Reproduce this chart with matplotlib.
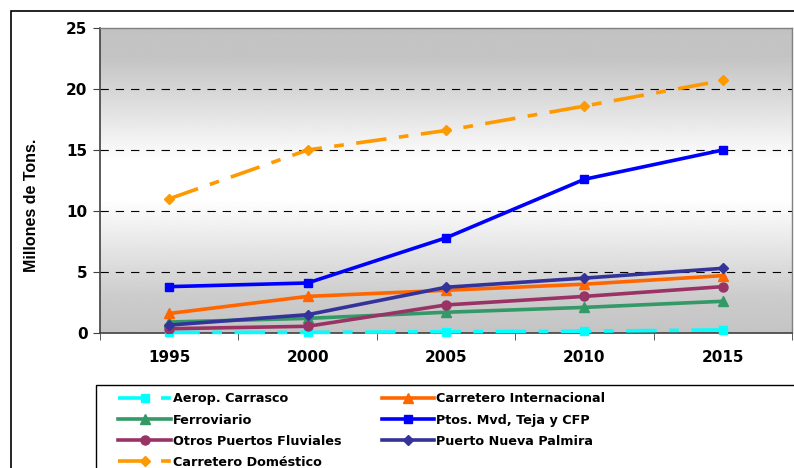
import matplotlib
matplotlib.use("Agg")
import matplotlib.pyplot as plt
import numpy as np
from matplotlib.patches import Rectangle
from matplotlib.lines import Line2D

plt.rcParams['lines.scale_dashes'] = False

years = ["1995", "2000", "2005", "2010", "2015"]
aerop_carrasco = [0.05, 0.05, 0.1, 0.15, 0.25]
carretero_internacional = [1.6, 3.0, 3.5, 4.0, 4.7]
ferroviario = [0.9, 1.2, 1.7, 2.1, 2.6]
ptos_mvd = [3.8, 4.1, 7.8, 12.6, 15.0]
otros_puertos = [0.35, 0.55, 2.3, 3.0, 3.8]
puerto_nueva_palmira = [0.65, 1.5, 3.75, 4.5, 5.3]
carretero_domestico = [11.0, 15.0, 16.6, 18.6, 20.7]

W, H = 794, 468
fig = plt.figure(figsize=(W/100, H/100), dpi=100)
fig.patch.set_facecolor('white')

# outer frame (extends beyond right / bottom)
fig.add_artist(Rectangle((11/W, -0.1), 1.2, 1 - 11/H + 0.1, transform=fig.transFigure,
                         fill=False, edgecolor='black', linewidth=1.2))

ax = fig.add_axes([100/W, (H-333)/H, (792-100)/W, (333-28)/H])
ax.set_xlim(-0.5, 4.5)
ax.set_ylim(0, 25)

# gradient background
yy = np.linspace(25, 0, 400)
vals = np.interp(yy, [0, 3, 11, 14, 22.5, 25], [0.77, 0.8, 1.0, 1.0, 0.77, 0.76])
img = np.repeat(vals[:, None], 2, axis=1)
ax.imshow(img, extent=[-0.5, 4.5, 0, 25], aspect='auto', cmap='gray', vmin=0, vmax=1,
          zorder=0, interpolation='bilinear')

for yv in [5, 10, 15, 20]:
    ax.axhline(yv, color='black', linestyle=(0, (6, 5)), linewidth=0.8, zorder=1)

x = np.arange(len(years))
lw = 2.6
dd = (0, (22, 9, 7, 9))
ax.plot(x, aerop_carrasco, color='#00FFFF', lw=lw, marker='s', ms=6,
        linestyle=dd, zorder=3, clip_on=False)
ax.plot(x, ferroviario, color='#339966', lw=lw, marker='^', ms=7, zorder=3)
ax.plot(x, otros_puertos, color='#993366', lw=lw, marker='o', ms=6.5, zorder=3)
ax.plot(x, carretero_internacional, color='#FF6600', lw=lw, marker='^', ms=7, zorder=3)
ax.plot(x, puerto_nueva_palmira, color='#333399', lw=lw, marker='D', ms=5.5, zorder=3)
ax.plot(x, ptos_mvd, color='#0000FF', lw=lw, marker='s', ms=6, zorder=3)
ax.plot(x, carretero_domestico, color='#FF9900', lw=lw, marker='D', ms=5.5,
        linestyle=dd, zorder=3)

ax.set_yticks([0, 5, 10, 15, 20, 25])
ax.set_yticklabels(["0", "5", "10", "15", "20", "25"], fontsize=11, fontweight='bold')
ax.set_xticks(x)
ax.set_xticklabels(years, fontsize=11, fontweight='bold')
ax.set_xticks(np.arange(-0.5, 5.0, 1.0), minor=True)
ax.tick_params(axis='x', which='major', length=0, pad=12)
ax.tick_params(axis='x', which='minor', length=5, direction='out', color='#404040')
ax.tick_params(axis='y', length=5, direction='out', color='#404040', pad=4)

for s in ['top', 'right']:
    ax.spines[s].set_color('#808080')
    ax.spines[s].set_linewidth(1.0)
for s in ['left', 'bottom']:
    ax.spines[s].set_color('#404040')
    ax.spines[s].set_linewidth(1.2)

fig.text(32/W, (H-205)/H, "Millones de Tons.", rotation=90, fontsize=11.5, fontweight='bold',
         family='Liberation Sans', ha='center', va='center')

# legend frame (extends beyond right / bottom)
fig.add_artist(Rectangle((96/W, -0.1), 1.2, (H-385)/H + 0.1, transform=fig.transFigure,
                         fill=False, edgecolor='black', linewidth=1.0))

def h(color, marker, ls='-', ms=6):
    return Line2D([0], [0], color=color, lw=lw, marker=marker, ms=ms, linestyle=ls)

handles = [
    h('#00FFFF', 's', dd),
    h('#339966', '^', ms=7),
    h('#993366', 'o', ms=6.5),
    h('#FF9900', 'D', dd, ms=5.5),
    h('#FF6600', '^', ms=7),
    h('#0000FF', 's'),
    h('#333399', 'D', ms=5.5),
]
labels = ["Aerop. Carrasco", "Ferroviario", "Otros Puertos Fluviales", "Carretero Doméstico",
          "Carretero Internacional", "Ptos. Mvd, Teja y CFP", "Puerto Nueva Palmira"]
leg = fig.legend(handles, labels, loc='upper left', bbox_to_anchor=(112/W, (H-386)/H),
                 ncol=2, frameon=False, prop={'size': 9.2, 'weight': 'bold'},
                 handlelength=4.1, handletextpad=0.15, columnspacing=3.2,
                 labelspacing=0.64, borderpad=0.0)

fig.savefig("out.png", dpi=100)
